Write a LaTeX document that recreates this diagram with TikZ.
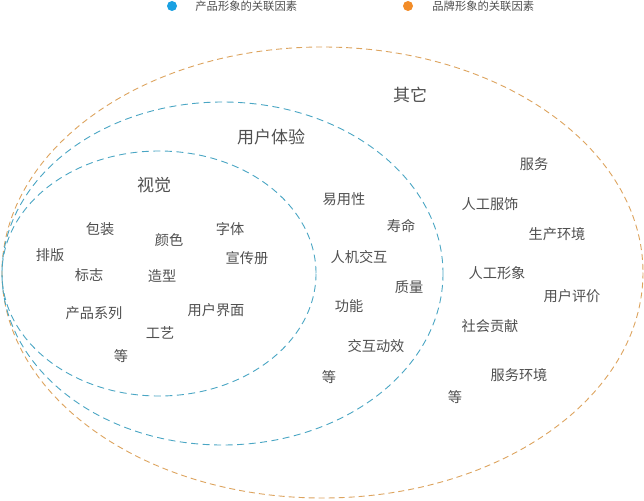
\documentclass[tikz,border=0pt]{standalone}
\usepackage{fontspec}
\setmainfont{Noto Sans CJK SC}
\usetikzlibrary{positioning}
\definecolor{pblue}{HTML}{1BA1E2}
\definecolor{porange}{HTML}{F28C28}
\definecolor{lblue}{HTML}{4AA6C4}
\definecolor{lorange}{HTML}{DDA45E}
\definecolor{txtgray}{HTML}{505050}
\tikzset{
x=1pt, y=-1pt, % image coordinates, y grows downwards
blueline/.style={draw=lblue, line width=0.9pt, dash pattern=on 7pt off 4.5pt},
orangeline/.style={draw=lorange, line width=0.9pt, dash pattern=on 6pt off 4pt},
item/.style={text=txtgray, font=\fontsize{14.2}{16}\selectfont, inner sep=0pt}, % the listed factors
title/.style={text=txtgray, font=\fontsize{17}{19}\selectfont, inner sep=0pt}, % name of each field
legend/.style={text=txtgray, font=\fontsize{11.3}{13}\selectfont, inner sep=0pt, anchor=west},
dot/.style={circle, fill=#1, minimum size=10pt, inner sep=0pt},
}

\begin{document}
\begin{tikzpicture}
\useasboundingbox[fill=white] (0,0) rectangle (644,500);

% legend
\node[dot=pblue] (bdot) at (172,6) {};
\node[legend, right=18pt of bdot] (blegend) {产品形象的关联因素};
\node[dot=porange] (odot) at (408,6) {};
\node[legend, right=19pt of odot] (olegend) {品牌形象的关联因素};

% fields
\draw[orangeline] (322.5,272.5) ellipse [x radius=320.5, y radius=225.5];
\draw[blueline] (222.5,273.5) ellipse [x radius=220.5, y radius=171.5];
\draw[blueline] (159,273.5) ellipse [x radius=157, y radius=122.5];

\node[title] (other) at (410,95) {其它};
\node[title] (ux) at (271,137) {用户体验};
\node[title] (visual) at (154,185) {视觉};

% visual
\node[item] (pack) at (100,229) {包装};
\node[item] (font) at (230,229) {字体};
\node[item] (colour) at (169,240) {颜色};
\node[item] (layout) at (50,255) {排版};
\node[item] (brochure) at (247,258) {宣传册};
\node[item] (logo) at (89,275) {标志};
\node[item] (shape) at (162,276) {造型};
\node[item] (series) at (94,313) {产品系列};
\node[item] (ui) at (216,310) {用户界面};
\node[item] (craft) at (160,333) {工艺};
\node[item] (etc1) at (121,356) {等};

% user experience
\node[item] (usability) at (344,199) {易用性};
\node[item] (life) at (401,226) {寿命};
\node[item] (hci) at (359,257) {人机交互};
\node[item] (quality) at (409,287) {质量};
\node[item] (function) at (349,306) {功能};
\node[item] (motion) at (376,346) {交互动效};
\node[item] (etc2) at (329,377) {等};

% other
\node[item] (service) at (534,164) {服务};
\node[item] (dress) at (490,204) {人工服饰};
\node[item] (production) at (557,234) {生产环境};
\node[item] (image) at (497,273) {人工形象};
\node[item] (review) at (572,296) {用户评价};
\node[item] (social) at (490,326) {社会贡献};
\node[item] (servenv) at (519,375) {服务环境};
\node[item] (etc3) at (455,397) {等};
\end{tikzpicture}
\end{document}
